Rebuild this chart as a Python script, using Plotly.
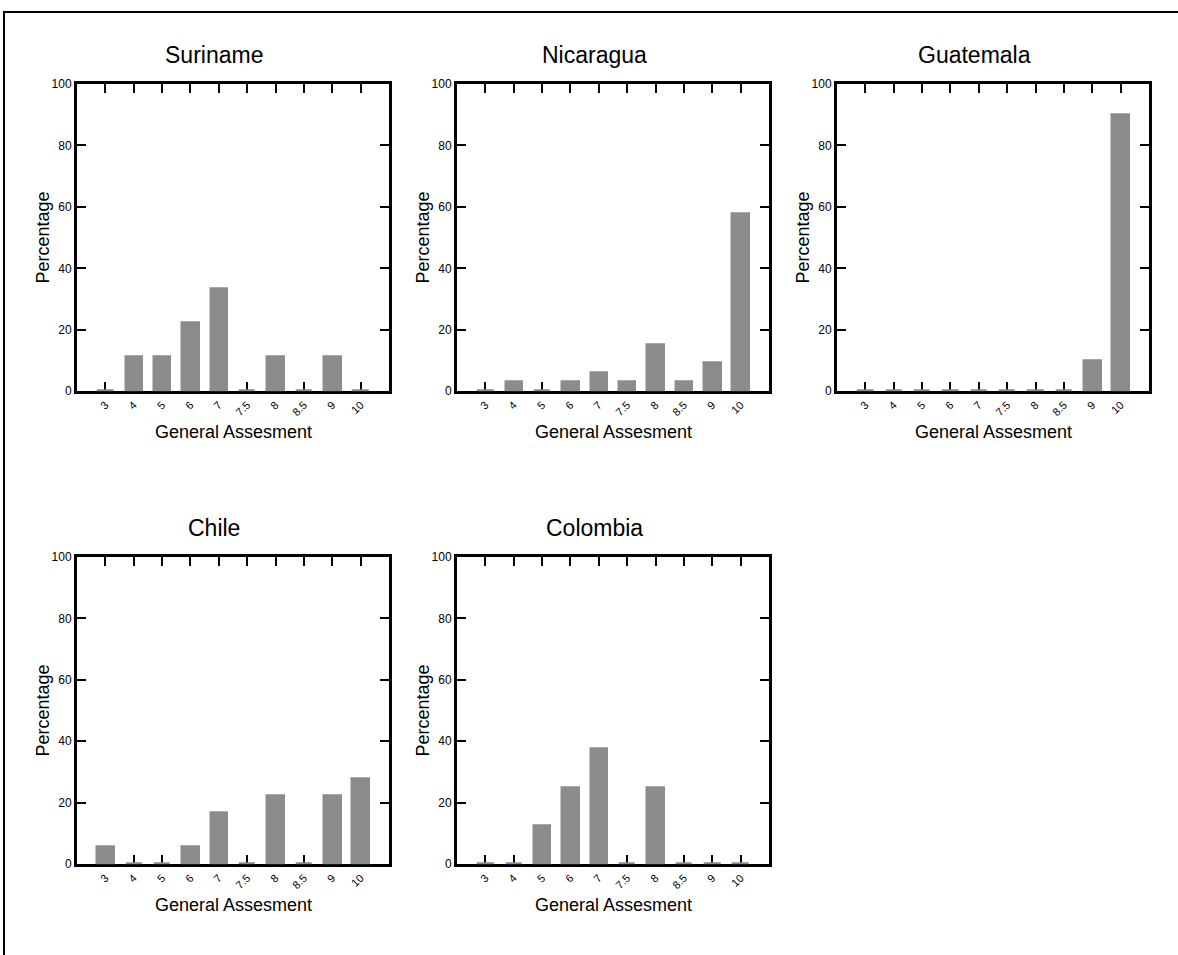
import plotly.graph_objects as go

# Score categories shared by every panel
scores = ["3", "4", "5", "6", "7", "7.5", "8", "8.5", "9", "10"]

# Percentage of respondents per score, by country
suriname = [0, 11.1, 11.1, 22.2, 33.3, 0, 11.1, 0, 11.1, 0]
nicaragua = [0, 3.03, 0, 3.03, 6.06, 3.03, 15.15, 3.03, 9.09, 57.58]
guatemala = [0, 0, 0, 0, 0, 0, 0, 0, 10.0, 90.0]
chile = [5.56, 0, 0, 5.56, 16.67, 0, 22.22, 0, 22.22, 27.78]
colombia = [0, 0, 12.5, 25.0, 37.5, 0, 25.0, 0, 0, 0]

countries = ["Suriname", "Nicaragua", "Guatemala", "Chile", "Colombia"]
series = [suriname, nicaragua, guatemala, chile, colombia]

W, H = 1178, 955
FONT = "Liberation Sans, Arial, sans-serif"
BAR = "rgb(140,140,140)"

# pixel boxes of the panels: (left, right, top, bottom)
col_x = [(77, 389), (457, 769), (837, 1149)]
row_y = [(78, 390), (558, 870)]
boxes = [
    (col_x[0], row_y[0]), (col_x[1], row_y[0]), (col_x[2], row_y[0]),
    (col_x[0], row_y[1]), (col_x[1], row_y[1]),
]

fig = go.Figure()
annotations = []

for i, (name, vals, ((x0, x1), (y0, y1))) in enumerate(zip(countries, series, boxes)):
    k = "" if i == 0 else str(i + 1)
    fig.add_trace(go.Bar(
        x=list(range(len(scores))), y=vals,
        xaxis="x" + k, yaxis="y" + k,
        width=0.58,
        marker=dict(color=BAR, line=dict(color=BAR, width=2.5)),
        showlegend=False, hoverinfo="skip",
    ))
    common = dict(
        showline=True, linecolor="black", linewidth=3, mirror="ticks",
        ticks="inside", ticklen=9, tickwidth=2, tickcolor="black",
        showgrid=False, zeroline=False, layer="below traces",
    )
    fig.update_layout(**{
        "xaxis" + k: dict(
            domain=[x0 / W, x1 / W], anchor="y" + k,
            range=[-1, len(scores)],
            tickmode="array", tickvals=list(range(len(scores))), ticktext=scores,
            tickangle=-45, tickfont=dict(family=FONT, size=11, color="black"),
            **common,
        ),
        "yaxis" + k: dict(
            domain=[1 - y1 / H, 1 - y0 / H], anchor="x" + k,
            range=[0, 100], tickvals=[0, 20, 40, 60, 80, 100],
            tickfont=dict(family=FONT, size=12, color="black"),
            **common,
        ),
    })
    cx = (x0 + x1) / 2
    cy = (y0 + y1) / 2
    annotations += [
        dict(text=name, x=(cx - 19) / W, y=1 - (y0 - 29) / H,
             font=dict(family=FONT, size=23, color="black")),
        dict(text="Percentage", x=(x0 - 34) / W, y=1 - cy / H, textangle=-90,
             font=dict(family=FONT, size=18, color="black")),
        dict(text="General Assesment", x=cx / W, y=1 - (y1 + 41) / H,
             font=dict(family=FONT, size=18, color="black")),
    ]

for a in annotations:
    a.update(xref="paper", yref="paper", showarrow=False,
             xanchor="center", yanchor="middle")

fig.update_layout(
    width=W, height=H,
    margin=dict(l=0, r=0, t=0, b=0),
    paper_bgcolor="white", plot_bgcolor="white",
    annotations=annotations,
    bargap=0,
    shapes=[dict(type="rect", xref="paper", yref="paper",
                 x0=4 / W, x1=1.05, y0=-0.05, y1=1 - 5 / H,
                 line=dict(color="black", width=2), fillcolor="rgba(0,0,0,0)")],
)

fig.write_html("out.html")
